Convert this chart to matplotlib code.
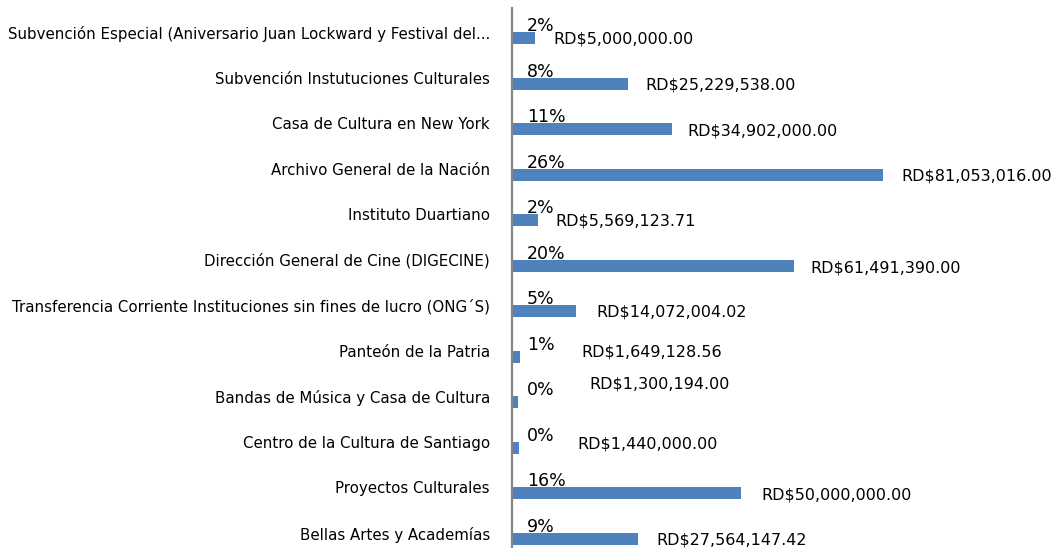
import matplotlib
matplotlib.use("Agg")
import matplotlib.pyplot as plt

# categorias de arriba hacia abajo
categorias = [
    "Subvención Especial (Aniversario Juan Lockward y Festival del...",
    "Subvención Instutuciones Culturales",
    "Casa de Cultura en New York",
    "Archivo General de la Nación",
    "Instituto Duartiano",
    "Dirección General de Cine (DIGECINE)",
    "Transferencia Corriente Instituciones sin fines de lucro (ONG´S)",
    "Panteón de la Patria",
    "Bandas de Música y Casa de Cultura",
    "Centro de la Cultura de Santiago",
    "Proyectos Culturales",
    "Bellas Artes y Academías",
]
montos = [5000000.00, 25229538.00, 34902000.00, 81053016.00, 5569123.71,
          61491390.00, 14072004.02, 1649128.56, 1300194.00, 1440000.00,
          50000000.00, 27564147.42]
porcentajes = ["2%", "8%", "11%", "26%", "2%", "20%", "5%", "1%", "0%", "0%", "16%", "9%"]

# desplazamiento de las etiquetas de monto (px) respecto al final de la barra
desp_x = [18, 18, 16, 18, 18, 17, 20, 62, 71, 59, 20, 18]
desp_y = [1, 1, 2, 1, 1, 2, 1, -5, -18, -4, 1, 1]

DPI = 100
W, H = 1054, 548
fig = plt.figure(figsize=(W / DPI, H / DPI), dpi=DPI)

eje_x = 512
esc = 4.58e-6  # px por peso
paso = 45.55
y0 = 38  # centro de la primera barra (px)
ax = fig.add_axes([eje_x / W, 0, (W - eje_x) / W, (H - 8) / H])

n = len(categorias)
pos = list(range(n))
ax.barh(pos, montos, height=12 / paso, color="#4F81BD")

ax.set_xlim(0, (W - eje_x) / esc)
ax.set_ylim((H - y0) / paso, -(y0 - 8) / paso)

ax.set_yticks([p - 6 / paso for p in pos])
ax.set_yticklabels(categorias, fontsize=10.8, color="black")
ax.tick_params(axis="y", length=0, pad=16)
ax.set_xticks([])

for lado in ["top", "right", "bottom"]:
    ax.spines[lado].set_visible(False)
ax.spines["left"].set_color("#868686")
ax.spines["left"].set_linewidth(1.6)

pt = 72 / DPI
for i in pos:
    ax.annotate(porcentajes[i], xy=(0, i), xytext=(15 * pt, 12 * pt),
                textcoords="offset points", ha="left", va="center", fontsize=12.5)
    texto = "RD$" + format(montos[i], ",.2f")
    ax.annotate(texto, xy=(montos[i], i), xytext=(desp_x[i] * pt, -desp_y[i] * pt),
                textcoords="offset points", ha="left", va="center", fontsize=11.5)

fig.savefig("out.png", dpi=DPI)
